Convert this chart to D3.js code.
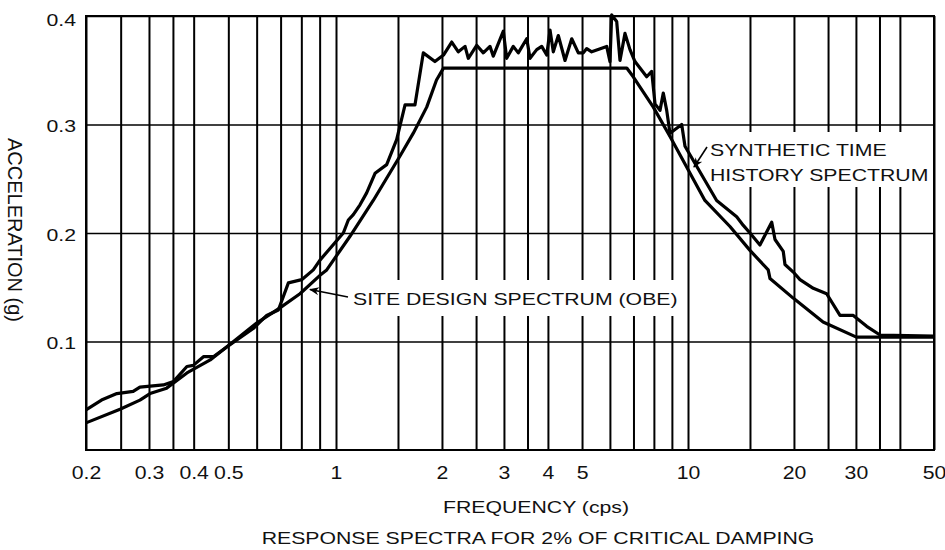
<!DOCTYPE html>
<html>
<head>
<meta charset="utf-8">
<script src="https://cdn.jsdelivr.net/npm/d3@7"></script>
<style>
  html, body { margin: 0; padding: 0; background: #fff; }
  svg { display: block; }
  text { font-family: "Liberation Sans", Arial, sans-serif; font-size: 17px; fill: #111; }
</style>
</head>
<body>
<svg id="chart" width="945" height="550"></svg>
<script>
// Frequency grid (cps) and labelled frequencies
const gridFreqs = [0.25, 0.3, 0.35, 0.4, 0.5, 0.6, 0.7, 0.8, 0.9, 1, 1.5, 2, 2.5, 3, 3.5, 4, 5, 6, 7, 8, 9, 10, 15, 20, 25, 30, 35, 40, 50];
const freqLabels = [0.2, 0.3, 0.4, 0.5, 1, 2, 3, 4, 5, 10, 20, 30, 50];
const accelTicks = [0.1, 0.2, 0.3, 0.4];

// Site design spectrum (OBE)
const designFreq  = [0.2, 0.249, 0.283, 0.302, 0.336, 0.383, 0.445, 0.517, 0.600, 0.697, 0.793, 0.902, 0.942, 1.096, 1.276, 1.52, 1.658, 1.81, 1.93, 2.02, 6.70, 6.99, 7.97, 8.89, 11.17, 13.16, 15.0, 16.9, 17.1, 19.9, 24.2, 30.1, 50];
const designAccel = [0.025, 0.0376, 0.046, 0.052, 0.057, 0.071, 0.083, 0.100, 0.117, 0.131, 0.144, 0.161, 0.166, 0.197, 0.230, 0.271, 0.292, 0.316, 0.341, 0.352, 0.352, 0.344, 0.316, 0.289, 0.230, 0.206, 0.184, 0.166, 0.158, 0.140, 0.118, 0.104, 0.104];

// Synthetic time history spectrum
const synthFreq = [0.2, 0.221, 0.244, 0.271, 0.283, 0.329, 0.351, 0.383, 0.399, 0.426, 0.454, 0.495, 0.587, 0.640, 0.690, 0.736, 0.802, 0.864, 0.902,
  1.049, 1.084, 1.12, 1.17, 1.222, 1.291, 1.393, 1.487, 1.571, 1.676, 1.77, 1.91, 2.02,
  2.132, 2.226, 2.326, 2.376, 2.510, 2.621, 2.738, 2.798, 2.988, 3.054, 3.189, 3.295, 3.482, 3.558, 3.717, 3.841, 3.969, 4.055, 4.143, 4.281,
  4.473, 4.674, 4.880, 5.042, 5.155, 5.326, 5.875, 6.003, 6.070, 6.272, 6.409, 6.622, 6.842, 7.069, 7.304, 7.632, 7.886, 8.059, 8.327, 8.507,
  8.699, 8.889, 9.596, 9.806, 12.06, 13.75, 14.36, 15.0, 16.01, 17.29, 17.67, 18.65, 18.86, 19.91, 20.81, 22.70, 24.77, 27.03, 29.49, 32.19, 35.12, 50];
const synthAccel = [0.037, 0.046, 0.052, 0.054, 0.058, 0.060, 0.063, 0.077, 0.078, 0.086, 0.086, 0.095, 0.112, 0.124, 0.129, 0.154, 0.157, 0.166, 0.175,
  0.200, 0.212, 0.217, 0.226, 0.237, 0.255, 0.263, 0.286, 0.318, 0.318, 0.366, 0.358, 0.364,
  0.376, 0.367, 0.372, 0.361, 0.373, 0.366, 0.372, 0.363, 0.386, 0.361, 0.372, 0.366, 0.379, 0.361, 0.369, 0.372, 0.364, 0.387, 0.367, 0.382,
  0.359, 0.379, 0.366, 0.366, 0.370, 0.367, 0.372, 0.358, 0.401, 0.395, 0.359, 0.384, 0.369, 0.358, 0.352, 0.344, 0.349, 0.319, 0.313, 0.329,
  0.313, 0.292, 0.300, 0.280, 0.230, 0.215, 0.207, 0.200, 0.189, 0.210, 0.194, 0.183, 0.171, 0.164, 0.157, 0.149, 0.144, 0.124, 0.124, 0.114, 0.106, 0.105];

const SX = 1.25; // horizontal stretch of the lettering

const svg = d3.select("#chart");
const plotLeft = 86, plotRight = 934, plotTop = 16, plotBottom = 450;

const x = d3.scaleLog().domain([0.2, 1, 10, 50]).range([plotLeft, 336, 688, plotRight]);
const y = d3.scaleLinear().domain([0, 0.4]).range([plotBottom, plotTop]);

// vertical grid + frequency labels
const xAxis = d3.axisBottom(x)
  .tickValues(gridFreqs.concat([0.2]))
  .tickSizeInner(-(plotBottom - plotTop)).tickSizeOuter(0).tickPadding(0)
  .tickFormat(d => freqLabels.includes(d) ? String(d) : "");
const gx = svg.append("g").attr("transform", `translate(0,${plotBottom})`).call(xAxis);
gx.select(".domain").remove();
gx.selectAll(".tick line").attr("stroke", "#000").attr("stroke-width", 2);
gx.selectAll(".tick text")
  .attr("y", 29).attr("dy", null)
  .attr("transform", `scale(1.18,1)`)
  .attr("fill", "#111").style("font-size", "18px").style("font-family", "Liberation Sans, Arial, sans-serif");

// horizontal grid + acceleration labels
const yAxis = d3.axisLeft(y)
  .tickValues(accelTicks)
  .tickSizeInner(-(plotRight - plotLeft)).tickSizeOuter(0).tickPadding(0)
  .tickFormat(d3.format(".1f"));
const gy = svg.append("g").attr("transform", `translate(${plotLeft},0)`).call(yAxis);
gy.select(".domain").remove();
gy.selectAll(".tick line").attr("stroke", "#000").attr("stroke-width", 1.4);
gy.selectAll(".tick text")
  .attr("x", 0).attr("dy", "0.36em")
  .attr("transform", d => `translate(-10,${d === 0.4 ? 3 : 1}) scale(${SX},1)`)
  .attr("fill", "#111").style("font-size", "17px").style("font-family", "Liberation Sans, Arial, sans-serif");

// plot frame
svg.append("rect")
  .attr("x", plotLeft).attr("y", plotTop).attr("width", plotRight - plotLeft).attr("height", plotBottom - plotTop)
  .attr("fill", "none").attr("stroke", "#000").attr("stroke-width", 2);

// white panels behind the curve labels
svg.append("rect").attr("x", 345).attr("y", 280).attr("width", 339).attr("height", 36).attr("fill", "#fff");
svg.append("rect").attr("x", 706).attr("y", 132).attr("width", 226).attr("height", 55).attr("fill", "#fff");

// curves
const line = d3.line().x(d => x(d[0])).y(d => y(d[1]));
const design = designFreq.map((f, i) => [f, designAccel[i]]);
const synth = synthFreq.map((f, i) => [f, synthAccel[i]]);

svg.append("path").datum(design).attr("d", line)
  .attr("fill", "none").attr("stroke", "#000").attr("stroke-width", 3.2).attr("stroke-linejoin", "round");
svg.append("path").datum(synth).attr("d", line)
  .attr("fill", "none").attr("stroke", "#000").attr("stroke-width", 3.2).attr("stroke-linejoin", "round");

// arrowheads
svg.append("defs").append("marker")
  .attr("id", "arrow").attr("viewBox", "0 0 10 10").attr("refX", 9).attr("refY", 5)
  .attr("markerWidth", 10).attr("markerHeight", 10).attr("markerUnits", "userSpaceOnUse")
  .attr("orient", "auto")
  .append("path").attr("d", "M0,1 L10,5 L0,9 L3,5 Z").attr("fill", "#000");

function text(str, px, py, anchor) {
  return svg.append("text")
    .attr("transform", `translate(${px},${py}) scale(${SX},1)`)
    .attr("text-anchor", anchor || "start")
    .text(str);
}

// labels
text("SITE DESIGN SPECTRUM (OBE)", 353, 305);
svg.append("line").attr("x1", 348).attr("y1", 297).attr("x2", 310).attr("y2", 289.5)
  .attr("stroke", "#000").attr("stroke-width", 1.6).attr("marker-end", "url(#arrow)");

text("SYNTHETIC TIME", 710, 156);
text("HISTORY SPECTRUM", 710, 181);
svg.append("line").attr("x1", 707).attr("y1", 147).attr("x2", 694).attr("y2", 167)
  .attr("stroke", "#000").attr("stroke-width", 1.6).attr("marker-end", "url(#arrow)");

// axis titles
text("FREQUENCY (cps)", 536, 513, "middle");
text("RESPONSE SPECTRA FOR 2% OF CRITICAL DAMPING", 538, 544, "middle");
svg.append("text")
  .attr("transform", `translate(8,230) rotate(90) scale(1,1.05)`)
  .attr("text-anchor", "middle")
  .style("font-size", "20px")
  .text("ACCELERATION (g)");
</script>
</body>
</html>
